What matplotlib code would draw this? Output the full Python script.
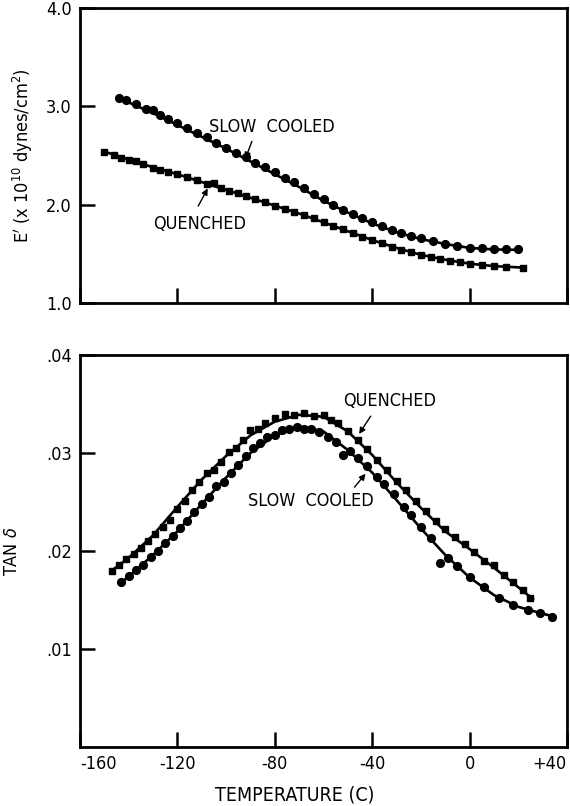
import matplotlib
matplotlib.use("Agg")
import matplotlib.pyplot as plt

plt.rcParams["font.family"] = ["DejaVu Sans"]
plt.rcParams["font.stretch"] = "condensed"

# ---- upper panel: storage modulus E' (x 1e10 dynes/cm^2) ----
e_slow_t = [-144, -141, -137, -133, -130, -127, -124, -120, -116, -112, -108,
            -104, -100, -96, -92, -88, -84, -80, -76, -72, -68, -64, -60, -56,
            -52, -48, -44, -40, -36, -32, -28, -24, -20, -15, -10, -5, 0, 5,
            10, 15, 20]
e_slow_v = [3.08, 3.06, 3.02, 2.97, 2.96, 2.91, 2.87, 2.83, 2.78, 2.73, 2.69,
            2.63, 2.58, 2.53, 2.48, 2.42, 2.38, 2.33, 2.27, 2.23, 2.17, 2.11,
            2.06, 2.00, 1.95, 1.91, 1.86, 1.82, 1.78, 1.74, 1.71, 1.68, 1.66,
            1.63, 1.60, 1.58, 1.56, 1.555, 1.55, 1.545, 1.55]
e_quen_t = [-150, -146, -143, -140, -137, -134, -130, -127, -124, -120, -116,
            -112, -108, -105, -102, -99, -95, -92, -88, -84, -80, -76, -72,
            -68, -64, -60, -56, -52, -48, -44, -40, -36, -32, -28, -24, -20,
            -16, -12, -8, -4, 0, 5, 10, 15, 22]
e_quen_v = [2.54, 2.51, 2.47, 2.45, 2.44, 2.41, 2.37, 2.35, 2.33, 2.31, 2.28,
            2.25, 2.21, 2.22, 2.17, 2.14, 2.12, 2.09, 2.06, 2.03, 1.99, 1.96,
            1.93, 1.89, 1.86, 1.82, 1.78, 1.75, 1.71, 1.67, 1.64, 1.61, 1.57,
            1.54, 1.52, 1.49, 1.47, 1.45, 1.43, 1.42, 1.40, 1.39, 1.38, 1.37,
            1.36]

# fitted curves
e_slow_fit_t = [-144, -140, -130, -120, -110, -100, -90, -80, -70, -60, -50,
                -40, -30, -20, -10, 0, 10, 20]
e_slow_fit_v = [3.08, 3.04, 2.93, 2.81, 2.69, 2.57, 2.44, 2.31, 2.18, 2.04,
                1.92, 1.81, 1.72, 1.65, 1.60, 1.56, 1.545, 1.54]
e_quen_fit_t = [-150, -140, -130, -120, -110, -100, -90, -80, -70, -60, -50,
                -40, -30, -20, -10, 0, 10, 22]
e_quen_fit_v = [2.54, 2.46, 2.38, 2.31, 2.23, 2.15, 2.07, 1.99, 1.91, 1.82,
                1.73, 1.64, 1.56, 1.49, 1.44, 1.40, 1.375, 1.36]

# ---- lower panel: loss tangent ----
tan_quen_t = [-147, -144, -141, -138, -135, -132, -129, -126, -123, -120,
              -117, -114, -111, -108, -105, -102, -99, -96, -93, -90, -87,
              -84, -80, -76, -72, -68, -64, -60, -57, -54, -50, -46, -42,
              -38, -34, -30, -26, -22, -18, -14, -10, -6, -2, 2, 6, 10, 14,
              18, 22, 25]
tan_quen_v = [.0180, .0186, .0192, .0197, .0203, .0210, .0217, .0225, .0232,
              .0243, .0251, .0262, .0270, .0280, .0283, .0291, .0301, .0305,
              .0313, .0323, .0325, .0331, .0336, .0340, .0339, .0341, .0338,
              .0339, .0334, .0331, .0322, .0313, .0304, .0293, .0283, .0271,
              .0262, .0251, .0241, .0231, .0222, .0214, .0207, .0199, .0190,
              .0186, .0176, .0168, .0160, .0152]
tan_slow_t = [-143, -140, -137, -134, -131, -128, -125, -122, -119, -116,
              -113, -110, -107, -104, -101, -98, -95, -92, -89, -86, -83,
              -80, -77, -74, -71, -68, -65, -62, -58, -55, -52, -49, -46,
              -42, -38, -35, -31, -27, -24, -20, -16, -12, -9, -5, 0, 6, 12,
              18, 24, 29, 34]
tan_slow_v = [.0168, .0174, .0181, .0186, .0194, .0200, .0208, .0215, .0223,
              .0231, .0240, .0248, .0255, .0266, .0270, .0280, .0288, .0297,
              .0305, .0310, .0316, .0318, .0323, .0324, .0327, .0324, .0325,
              .0321, .0316, .0311, .0298, .0302, .0295, .0287, .0276, .0268,
              .0258, .0245, .0237, .0224, .0213, .0188, .0193, .0185, .0173,
              .0163, .0152, .0145, .0140, .0137, .0133]

tan_quen_fit_t = [-147, -140, -130, -120, -110, -100, -90, -80, -70, -60, -50,
                  -40, -30, -20, -10, 0, 10, 20, 26]
tan_quen_fit_v = [.0180, .0193, .0216, .0245, .0273, .0297, .0318, .0332,
                  .0339, .0337, .0322, .0298, .0270, .0244, .0220, .0202,
                  .0183, .0163, .0151]
tan_slow_fit_t = [-143, -140, -130, -120, -110, -100, -90, -80, -70, -60, -50,
                  -40, -30, -20, -10, 0, 10, 20, 30, 35]
tan_slow_fit_v = [.0168, .0174, .0196, .0220, .0248, .0275, .0300, .0318,
                  .0327, .0322, .0303, .0280, .0252, .0223, .0196, .0173,
                  .0155, .0143, .0136, .0133]

x_ticks = [-160, -120, -80, -40, 0, 40]
x_labels = ["-160", "-120", "-80", "-40", "0", "+40"]
e_ticks = [1.0, 2.0, 3.0, 4.0]
tan_ticks = [0.01, 0.02, 0.03, 0.04]
tan_labels = [".01", ".02", ".03", ".04"]

W, H = 570, 806
fig = plt.figure(figsize=(W / 100, H / 100), dpi=100)
ax1 = fig.add_axes([80 / W, 1 - 303 / H, 487 / W, 295 / H])
ax2 = fig.add_axes([80 / W, 1 - 747 / H, 487 / W, 392 / H])

LW = 1.9
MS = 5.6
FS = 13


def style_axes(ax):
    for side in ["left", "right", "top", "bottom"]:
        ax.spines[side].set_linewidth(2.0)
    ax.tick_params(direction="in", length=11, width=1.8, top=False,
                   right=False, labelsize=FS, pad=6)
    ax.set_xlim(-160, 40)
    ax.set_xticks(x_ticks)


def arrow(ax, tip, tail):
    ax.annotate("", xy=tip, xytext=tail,
                arrowprops=dict(arrowstyle="-|>", color="black", lw=1.0,
                                mutation_scale=9))


# upper panel
style_axes(ax1)
ax1.plot(e_slow_fit_t, e_slow_fit_v, color="black", lw=LW)
ax1.plot(e_quen_fit_t, e_quen_fit_v, color="black", lw=LW)
ax1.plot(e_slow_t, e_slow_v, "o", color="black", ms=MS)
ax1.plot(e_quen_t, e_quen_v, "s", color="black", ms=MS - 0.8)
ax1.set_ylim(1.0, 4.0)
ax1.set_yticks(e_ticks)
ax1.set_yticklabels([f"{v:.1f}" for v in e_ticks])
ax1.set_xticklabels([])
ax1.set_ylabel(r"E$'$ (x 10$^{10}$ dynes/cm$^{2}$)", fontsize=FS, labelpad=8)
ax1.text(-107, 2.79, "SLOW  COOLED", fontsize=FS, va="center", ha="left")
arrow(ax1, (-92.5, 2.44), (-89, 2.67))
ax1.text(-130, 1.80, "QUENCHED", fontsize=FS, va="center", ha="left")
arrow(ax1, (-107, 2.19), (-112, 1.96))

# lower panel
style_axes(ax2)
ax2.plot(tan_quen_fit_t, tan_quen_fit_v, color="black", lw=LW)
ax2.plot(tan_slow_fit_t, tan_slow_fit_v, color="black", lw=LW)
ax2.plot(tan_quen_t, tan_quen_v, "s", color="black", ms=MS - 0.8)
ax2.plot(tan_slow_t, tan_slow_v, "o", color="black", ms=MS)
ax2.set_ylim(0.0, 0.04)
ax2.set_yticks(tan_ticks)
ax2.set_yticklabels(tan_labels)
ax2.set_xticklabels(x_labels)
ticklabs = ax2.get_xticklabels()
ticklabs[0].set_horizontalalignment("left")
ticklabs[-1].set_horizontalalignment("right")
ax2.set_ylabel(r"TAN $\delta$", fontsize=FS, labelpad=18)
ax2.text(-52, 0.0353, "QUENCHED", fontsize=FS, va="center", ha="left")
arrow(ax2, (-46, 0.0317), (-40, 0.0340))
ax2.text(-91, 0.0251, "SLOW  COOLED", fontsize=FS, va="center", ha="left")
arrow(ax2, (-42, 0.0281), (-48, 0.0263))

fig.text(295 / W, 1 - 795 / H, "TEMPERATURE (C)", fontsize=FS + 1,
         ha="center", va="center")

fig.savefig("out.png", dpi=100)
